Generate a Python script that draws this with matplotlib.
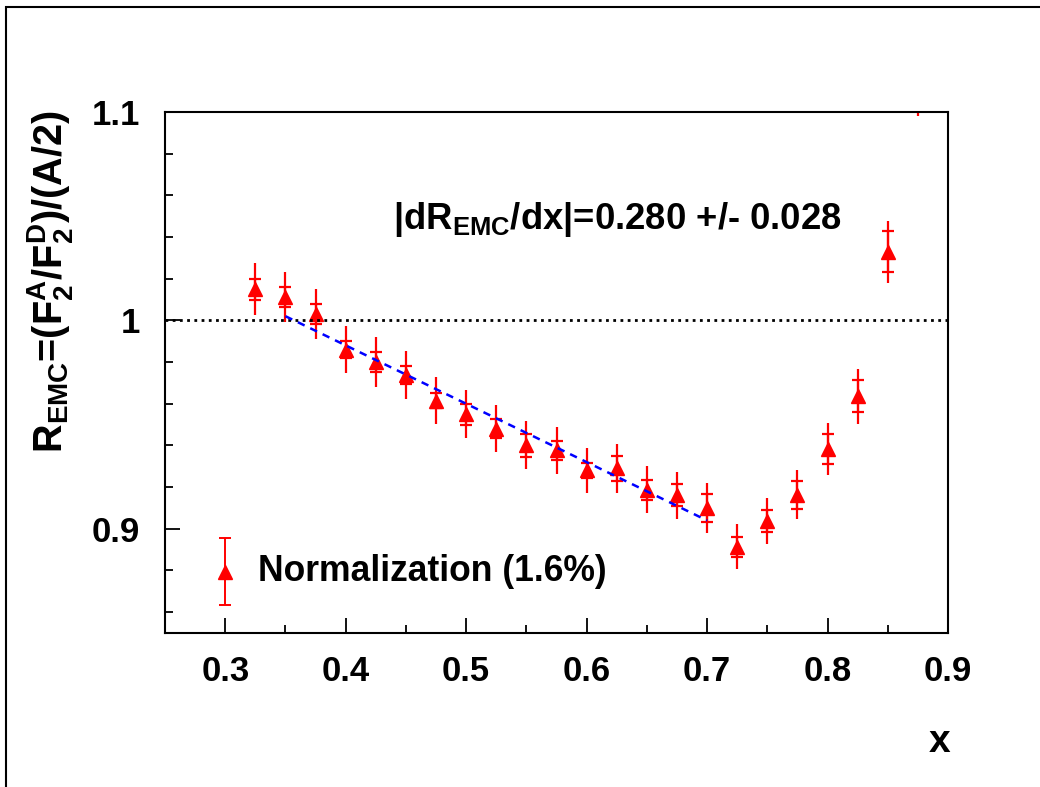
import numpy as np
import matplotlib
matplotlib.use("Agg")
import matplotlib.pyplot as plt
from matplotlib.ticker import MultipleLocator
from matplotlib.patches import Rectangle

plt.rcParams['font.family'] = ['Liberation Sans', 'DejaVu Sans']
plt.rcParams['font.weight'] = 'bold'
plt.rcParams['mathtext.fontset'] = 'custom'
plt.rcParams['mathtext.rm'] = 'Liberation Sans:bold'
plt.rcParams['mathtext.it'] = 'Liberation Sans:bold'
plt.rcParams['mathtext.bf'] = 'Liberation Sans:bold'

# EMC ratio points
x_pts = [0.325, 0.35, 0.375, 0.40, 0.425, 0.45, 0.475, 0.50, 0.525, 0.55, 0.575, 0.60,
         0.625, 0.65, 0.675, 0.70, 0.725, 0.75, 0.775, 0.80, 0.825, 0.85, 0.875]
r_emc = [1.015, 1.011, 1.003, 0.986, 0.980, 0.974, 0.9615, 0.955, 0.948, 0.940, 0.9377, 0.928,
         0.929, 0.9187, 0.916, 0.910, 0.8914, 0.9038, 0.9164, 0.9383, 0.9635, 1.033, 1.125]
err_stat = [0.005, 0.0048, 0.0048, 0.004, 0.005, 0.0043, 0.0037, 0.005, 0.0046, 0.0056, 0.0046, 0.0036,
            0.006, 0.0049, 0.0053, 0.0068, 0.0047, 0.0053, 0.0067, 0.0072, 0.0077, 0.0098, 0.015]
err_tot = [0.0123, 0.012, 0.012, 0.0113, 0.0118, 0.0115, 0.0111, 0.0115, 0.0112, 0.0115, 0.0112, 0.0106,
           0.0117, 0.0112, 0.0114, 0.012, 0.0108, 0.0112, 0.0119, 0.0125, 0.013, 0.0149, 0.027]

# linear fit over 0.35 < x < 0.7
fit_range = [0.35, 0.70]
fit_slope = -0.28
fit_y0 = 1.002   # value at x = 0.35

# normalization uncertainty marker
norm_x = 0.30
norm_y = 0.8795
norm_err = 0.016

fig = plt.figure(figsize=(10.4, 7.87), dpi=100)
ax = fig.add_axes([0.1587, 0.1957, 0.9115 - 0.1587, 0.8577 - 0.1957])

# total errors (plain lines) and statistical errors (with crossbars)
ax.errorbar(x_pts, r_emc, yerr=err_tot, fmt='none', ecolor='red', elinewidth=1.6)
ax.errorbar(x_pts, r_emc, yerr=err_stat, fmt='none', ecolor='red', elinewidth=1.6,
            capsize=4, capthick=1.6)
ax.plot(x_pts, r_emc, linestyle='none', marker='^', color='red', markersize=10)

# y = 1 reference
ax.axhline(1.0, color='black', linestyle=(0, (1, 1.6)), linewidth=2.0)

# fit line
fx = np.array(fit_range)
fy = fit_y0 + fit_slope * (fx - fit_range[0])
ax.plot(fx, fy, color='blue', linestyle=(0, (3, 2.5)), linewidth=1.8)

# normalization
ax.errorbar([norm_x], [norm_y], yerr=[norm_err], fmt='^', color='red', markersize=10,
            elinewidth=1.4, capsize=4, capthick=1.4)
ax.text(0.327, norm_y, 'Normalization (1.6%)', fontsize=25.6, fontweight='bold',
        va='center', ha='left')

ax.text(0.439, 1.0438, r'|dR$_{\rm EMC}$/dx|=0.280 +/- 0.028', fontsize=26.3,
        fontweight='bold', va='baseline', ha='left')

ax.set_xlim(0.25, 0.9)
ax.set_ylim(0.85, 1.1)
ax.xaxis.set_major_locator(MultipleLocator(0.1))
ax.xaxis.set_minor_locator(MultipleLocator(0.05))
ax.yaxis.set_major_locator(MultipleLocator(0.1))
ax.yaxis.set_minor_locator(MultipleLocator(0.02))
ax.xaxis.set_major_formatter(plt.FuncFormatter(lambda v, p: f'{v:.1f}'))
ax.yaxis.set_major_formatter(plt.FuncFormatter(lambda v, p: f'{v:g}'))
ax.tick_params(which='both', direction='in', top=False, right=False, width=1.3,
               labelsize=25)
ax.tick_params(which='major', length=11)
ax.tick_params(which='minor', length=6)
ax.tick_params(axis='x', pad=16)
ax.tick_params(axis='y', pad=18)
for s in ax.spines.values():
    s.set_linewidth(1.5)

fig.text(50 / 1040, 1 - 282 / 787, r'R$_{\rm EMC}$=(F$_2^{\rm A}$/F$_2^{\rm D}$)/(A/2)',
         rotation=90, ha='center', va='center', fontsize=28.5, fontweight='bold')
fig.text(950 / 1040, 1 - 742 / 787, 'x', ha='right', va='center', fontsize=28,
         fontweight='bold')

# canvas frame
fig.add_artist(Rectangle((6 / 1040, -0.1), 1.2, 1.1 - 7 / 787, transform=fig.transFigure,
                         fill=False, edgecolor='black', linewidth=1.5))

fig.savefig('out.png', dpi=100)
